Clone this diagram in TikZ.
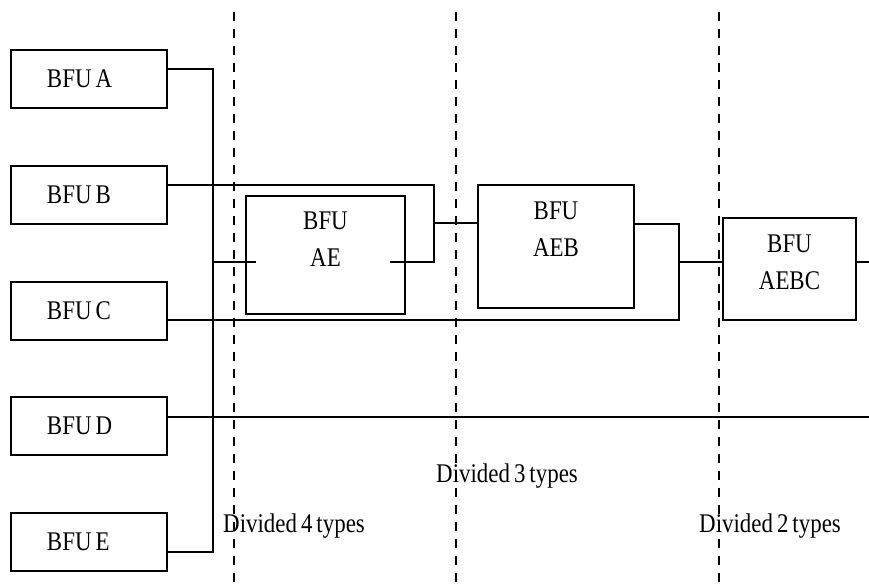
\documentclass[tikz,border=0pt]{standalone}
\usepackage{fontspec}
\setmainfont{Liberation Serif}[FakeStretch=0.85, WordSpace=0.7]
\usepackage{tikz}
\usetikzlibrary{positioning, calc}

\begin{document}
\begin{tikzpicture}[x=0.03cm, y=-0.03cm,
    lbl/.style={font=\fontsize{23}{31.5}\selectfont, inner sep=0pt},
    bfu/.style={draw, line width=1.6pt, minimum width=4.68cm, minimum height=1.74cm,
      text width=2.52cm, inner xsep=1.08cm, inner ysep=0pt, align=left,
      font=\fontsize{23}{31.5}\selectfont,
      execute at begin node={\spaceskip=0pt\xspaceskip=0pt\relax}},
    grp/.style={draw, line width=1.6pt},
    wire/.style={line width=1.6pt},
    dv/.style={line width=1.4pt, dash pattern=on 7.7pt off 6.8pt}]
  \useasboundingbox (0,0) rectangle (869,587);
  % single units
  \node[bfu] (a) at (89,79) {BFU A};
  \node[bfu] (b) at (89,195) {BFU B};
  \node[bfu] (c) at (89,311) {BFU C};
  \node[bfu] (d) at (89,426) {BFU D};
  \node[bfu] (e) at (89,542) {BFU E};
  % merged units
  \node[grp, minimum width=4.77cm, minimum height=3.54cm] (ae) at (325.5,255) {};
  \node[grp, minimum width=4.68cm, minimum height=3.69cm] (aeb) at (556,246.5) {};
  \node[grp, minimum width=3.99cm, minimum height=3.06cm] (aebc) at (789.5,269) {};
  \node[lbl, anchor=north, align=center] (aeT) at (325.5,212) {BFU\\AE};
  \node[lbl, anchor=north, align=center] (aebT) at (556,202) {BFU\\AEB};
  \node[lbl, anchor=north, align=center] (aebcT) at (789.5,235) {BFU\\AEBC};
  % junctions
  \coordinate (jBus) at (212,262);
  \coordinate (jB) at (434,262);
  \coordinate (jAEB) at (434,223);
  \coordinate (jC) at (679,224);
  \coordinate (jAEBC) at (679,262);
  \coordinate (outC) at (869,262);
  \coordinate (outD) at (869,417);
  % bus A..E
  \draw[wire] ($(a.east)+(0,-10)$) -| ($(e.east)+(45,10)$) -- ($(e.east)+(0,10)$);
  \draw[wire] (jBus) -- ($(ae.west)+(11,7)$);
  % B joins AE
  \draw[wire] ($(b.east)+(0,-10)$) -| (jB) -- ($(ae.east)+(-16,7)$);
  \draw[wire] (jAEB) -- (jAEB -| aeb.west);
  % C joins AEB
  \draw[wire] ($(c.east)+(0,9)$) -| (jC) -- (jC -| aeb.east);
  \draw[wire] (jAEBC) -- (jAEBC -| aebc.west);
  \draw[wire] ($(aebc.east)+(0,-7)$) -- (outC);
  % D passes through
  \draw[wire] ($(d.east)+(0,-9)$) -- (outD);
  % dividers
  \foreach \x in {234,456,719} \draw[dv] (\x,12) -- (\x,587);
  \node[lbl, anchor=base west] (div4) at (223,532) {Divided 4 types};
  \node[lbl, anchor=base west] (div3) at (436,482) {Divided 3 types};
  \node[lbl, anchor=base west] (div2) at (699,532) {Divided 2 types};
\end{tikzpicture}
\end{document}
